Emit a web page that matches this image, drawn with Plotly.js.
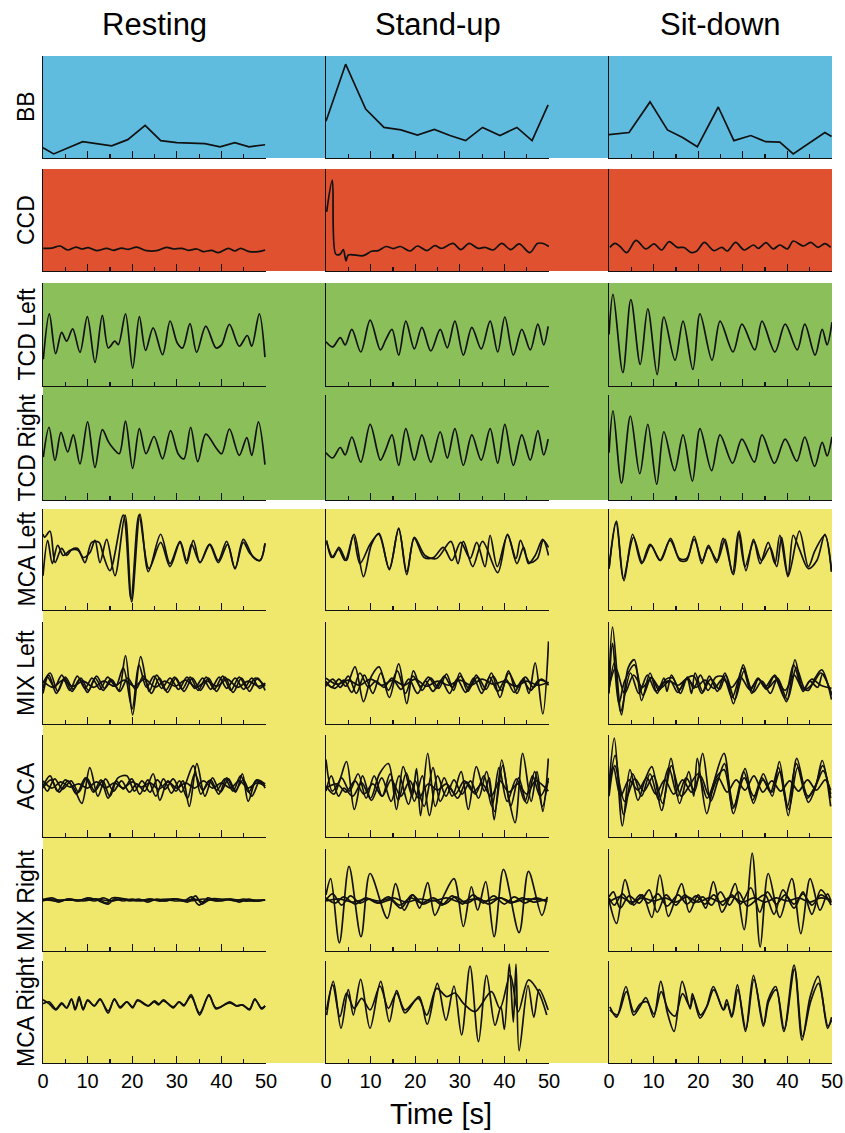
<!DOCTYPE html>
<html><head><meta charset="utf-8">
<script src="https://cdn.plot.ly/plotly-3.0.1.min.js"></script>
<style>html,body{margin:0;padding:0;background:#fff}</style>
</head><body><div id="chart" style="width:845px;height:1133px"></div>
<script>
// ---------- categories / labels ----------
const columns = ['Resting', 'Stand-up', 'Sit-down'];
const rowLabels = ['BB', 'CCD', 'TCD Left', 'TCD Right', 'MCA Left', 'MIX Left', 'ACA', 'MIX Right', 'MCA Right'];
const timeTicks = [0, 10, 20, 30, 40, 50];
const xTitle = 'Time [s]';

// ---------- data: [time (s), normalised signal] ----------
// BB
const rest_BB = [[0,0.10],[2.4,0.04],[8.9,0.16],[15.4,0.12],[19,0.18],[22.9,0.32],[26.4,0.17],[30,0.15],[36.3,0.14],[39.7,0.11],[43,0.15],[46.2,0.11],[49.8,0.13]];
const stand_BB = [[0,0.36],[4.4,0.92],[8.9,0.48],[13,0.30],[16.8,0.275],[20.5,0.225],[24.3,0.28],[27.8,0.22],[31.3,0.17],[35.1,0.30],[39,0.22],[42.8,0.30],[46.2,0.17],[49.8,0.52]];
const sit_BB = [[0,0.23],[4.5,0.25],[9.2,0.55],[13.1,0.275],[16.5,0.20],[19.8,0.11],[24.5,0.50],[28,0.17],[31.8,0.22],[35.1,0.16],[38.3,0.155],[41.3,0.04],[48.4,0.25],[49.9,0.21]];
// CCD
const rest_CCD = [[0.07,0.222],[1.94,0.225],[3.81,0.245],[5.53,0.206],[7.4,0.235],[8.67,0.216],[10.16,0.229],[12.03,0.199],[14.28,0.222],[15.77,0.203],[17.64,0.225],[19.13,0.212],[21.0,0.235],[23.2,0.199],[25.5,0.199],[27.7,0.232],[29.2,0.216],[31.1,0.222],[32.6,0.203],[34.5,0.216],[35.9,0.19],[37.8,0.203],[39.3,0.18],[41.6,0.222],[43.0,0.196],[44.3,0.222],[46.0,0.193],[48.3,0.19],[49.8,0.206]];
const stand_CCD = [[0.15,0.58],[1.42,0.89],[2.17,0.167],[3.14,0.163],[3.88,0.21],[4.48,0.10],[5.0,0.157],[8.37,0.15],[10.2,0.193],[11.7,0.20],[13.45,0.24],[15.1,0.22],[16.7,0.24],[18.8,0.196],[20.5,0.245],[22.6,0.20],[24.4,0.248],[25.9,0.222],[28.5,0.27],[30.2,0.21],[32.1,0.27],[34.1,0.222],[35.65,0.232],[37.5,0.206],[39.4,0.27],[41.4,0.21],[43.3,0.265],[45.7,0.18],[47.4,0.27],[48.7,0.27],[50,0.24]];
const sit_CCD = [[0.22,0.232],[1.35,0.27],[2.47,0.24],[3.96,0.18],[6.05,0.30],[8.3,0.216],[10.1,0.265],[11.8,0.206],[13.45,0.287],[15.3,0.232],[16.8,0.23],[18.5,0.18],[19.7,0.196],[21.4,0.28],[23.5,0.20],[25.3,0.232],[26.5,0.196],[28.4,0.28],[30.3,0.206],[32.4,0.255],[33.5,0.222],[35.2,0.278],[36.8,0.216],[38.3,0.255],[40.0,0.216],[41.3,0.294],[43.6,0.245],[45.2,0.28],[46.9,0.232],[48.4,0.268],[49.7,0.232]];
// TCD Left
const rest_TCDL = [[0.07,0.26],[1.42,0.70],[2.84,0.314],[4.18,0.52],[5.3,0.435],[6.65,0.555],[8.29,0.327],[9.94,0.673],[11.66,0.229],[13.3,0.686],[14.65,0.369],[16.1,0.435],[16.9,0.402],[18.5,0.70],[20.1,0.173],[21.6,0.673],[23.0,0.346],[24.7,0.565],[26.8,0.304],[28.5,0.631],[30.1,0.418],[31.3,0.369],[32.96,0.605],[34.45,0.327],[36.5,0.582],[38.8,0.369],[40.06,0.402],[41.8,0.598],[44.0,0.386],[45.8,0.49],[46.8,0.386],[48.5,0.70],[49.77,0.28]];
const stand_TCDL = [[0,0.43],[1.5,0.38],[3.2,0.47],[4.3,0.40],[5.8,0.55],[7.8,0.33],[9.9,0.64],[12.2,0.35],[13.4,0.45],[14.8,0.55],[16.3,0.30],[17.9,0.63],[19.8,0.36],[21.5,0.57],[23.5,0.34],[25.6,0.55],[27.2,0.37],[28.9,0.63],[30.8,0.30],[32.7,0.57],[34.8,0.36],[36.8,0.63],[38.5,0.33],[40.1,0.67],[42.0,0.30],[43.9,0.55],[45.8,0.35],[47.5,0.60],[48.8,0.40],[49.8,0.58]];
const sit_TCDL = [[0,0.50],[0.9,0.89],[3.1,0.13],[4.9,0.84],[7.0,0.21],[8.7,0.75],[10.8,0.11],[12.3,0.67],[14.8,0.25],[16.6,0.63],[18.8,0.16],[20.4,0.70],[23.1,0.25],[24.9,0.63],[27.8,0.33],[29.8,0.60],[32.7,0.35],[34.3,0.63],[37.2,0.33],[39.5,0.60],[42.2,0.35],[43.9,0.60],[46.2,0.30],[47.8,0.55],[48.9,0.40],[50,0.62]];
// TCD Right
const rest_TCDR = [[0.07,0.409],[1.35,0.693],[2.69,0.376],[4.04,0.644],[5.53,0.458],[6.8,0.621],[8.29,0.343],[10.0,0.745],[11.66,0.310],[13.3,0.670],[14.65,0.556],[15.77,0.49],[17.1,0.441],[18.5,0.752],[20.1,0.301],[21.6,0.680],[23.1,0.441],[24.9,0.605],[26.8,0.392],[28.6,0.660],[30.3,0.441],[31.6,0.392],[33.1,0.693],[34.7,0.366],[36.5,0.627],[38.9,0.49],[40.06,0.441],[41.8,0.676],[44.0,0.425],[45.7,0.595],[46.8,0.425],[48.3,0.745],[49.77,0.337]];
const stand_TCDR = [[0,0.45],[1.5,0.40],[3.2,0.50],[4.3,0.43],[5.8,0.60],[7.8,0.36],[9.9,0.72],[12.2,0.38],[13.4,0.48],[14.8,0.62],[16.3,0.33],[17.9,0.68],[19.8,0.38],[21.5,0.62],[23.5,0.36],[25.6,0.65],[27.2,0.40],[28.9,0.68],[30.8,0.33],[32.7,0.62],[34.8,0.38],[36.8,0.68],[38.5,0.35],[40.1,0.72],[42.0,0.33],[43.9,0.62],[45.8,0.38],[47.5,0.66],[48.8,0.43],[49.8,0.58]];
const sit_TCDR = [[0,0.45],[0.9,0.85],[2.8,0.16],[4.8,0.80],[6.9,0.25],[8.7,0.72],[10.7,0.15],[12.3,0.65],[14.7,0.28],[16.6,0.62],[18.7,0.18],[20.4,0.68],[23.0,0.28],[24.9,0.62],[27.7,0.35],[29.8,0.58],[32.6,0.36],[34.3,0.62],[37.1,0.35],[39.5,0.58],[42.1,0.37],[43.9,0.60],[46.1,0.32],[47.8,0.55],[48.9,0.42],[50,0.60]];
// MCA Left
const rest_MCAL_1 = [[0,0.75],[0.37,0.72],[1.57,0.78],[2.69,0.47],[4.19,0.61],[5.31,0.54],[6.43,0.60],[7.7,0.61],[9.04,0.52],[10.54,0.57],[11.66,0.69],[12.78,0.47],[14.28,0.70],[16.14,0.34],[18.39,0.94],[19.88,0.08],[21.75,0.95],[23.62,0.38],[26.38,0.75],[28.48,0.46],[30.72,0.68],[32.21,0.49],[33.33,0.65],[35.2,0.47],[37.44,0.65],[39.31,0.49],[41.18,0.68],[43.05,0.41],[44.92,0.70],[47.16,0.52],[48.65,0.49],[49.78,0.66]];
const rest_MCAL_2 = [[0,0.34],[1.05,0.69],[2.09,0.46],[3.29,0.64],[4.56,0.54],[6.05,0.59],[7.92,0.59],[9.42,0.47],[10.91,0.67],[12.56,0.67],[13.53,0.54],[15.02,0.39],[18.01,0.94],[19.73,0.11],[21.52,0.94],[23.77,0.41],[26.38,0.67],[28.48,0.43],[30.72,0.67],[32.21,0.46],[33.7,0.69],[35.2,0.47],[37.3,0.65],[39.31,0.47],[41.4,0.65],[43.05,0.41],[44.92,0.67],[46.4,0.56],[48.65,0.49],[49.78,0.66]];
const stand_MCAL_1 = [[0.15,0.69],[1.3,0.52],[2.8,0.60],[4.3,0.49],[6.3,0.75],[8.4,0.33],[10.2,0.65],[11.9,0.76],[14.2,0.40],[16.3,0.81],[18.1,0.35],[19.8,0.72],[22.2,0.54],[24.8,0.51],[28.0,0.68],[29.6,0.46],[30.8,0.68],[32.9,0.43],[35.1,0.68],[38.5,0.37],[40.7,0.75],[42.8,0.46],[44.3,0.62],[45.4,0.46],[46.9,0.54],[48.6,0.70],[49.9,0.54]];
const stand_MCAL_2 = [[0.15,0.67],[1.6,0.52],[2.9,0.62],[4.6,0.49],[6.1,0.74],[7.6,0.46],[9.9,0.65],[11.8,0.75],[14.2,0.41],[16.3,0.80],[18.1,0.38],[19.8,0.71],[22.0,0.52],[24.1,0.52],[26.3,0.62],[28.2,0.49],[30.2,0.67],[32.3,0.51],[33.8,0.67],[35.65,0.43],[36.8,0.74],[38.4,0.43],[40.7,0.74],[42.6,0.51],[43.6,0.69],[45.6,0.47],[47.4,0.51],[48.7,0.69],[49.9,0.62]];
const sit_MCAL_1 = [[0,0.41],[1.57,0.87],[3.36,0.29],[5.3,0.75],[7.3,0.46],[9.2,0.65],[11.6,0.49],[13.8,0.71],[15.9,0.49],[17.4,0.49],[19.1,0.73],[20.8,0.46],[22.3,0.64],[24.1,0.47],[25.6,0.71],[27.9,0.35],[29.2,0.78],[30.7,0.39],[32.4,0.70],[33.9,0.46],[35.7,0.67],[37.2,0.46],[38.3,0.74],[40.1,0.33],[41.3,0.74],[42.7,0.60],[44.7,0.41],[46.6,0.49],[48.4,0.75],[49.9,0.38]];
const sit_MCAL_2 = [[0,0.41],[1.7,0.88],[3.2,0.31],[5.5,0.72],[7.5,0.47],[9.4,0.64],[11.4,0.49],[13.7,0.69],[15.8,0.51],[17.4,0.51],[19.1,0.70],[20.9,0.49],[22.3,0.62],[24.3,0.49],[26.0,0.70],[27.7,0.36],[29.0,0.77],[30.5,0.43],[32.5,0.68],[34.2,0.49],[36.1,0.62],[37.6,0.43],[38.7,0.72],[40.2,0.34],[42.7,0.78],[44.7,0.43],[46.2,0.59],[48.4,0.74],[49.9,0.38]];
// MIX Left
const rest_MIXL_1 = [[0,0.40],[1.6,0.50],[3.3,0.32],[5.0,0.46],[6.8,0.34],[8.5,0.45],[10.2,0.33],[12,0.47],[13.8,0.35],[15.5,0.43],[17.0,0.33],[18.5,0.67],[20.1,0.09],[21.9,0.66],[23.8,0.32],[25.5,0.48],[27.5,0.33],[29.5,0.46],[31.2,0.34],[33.0,0.46],[34.8,0.33],[36.6,0.46],[38.4,0.34],[40.3,0.47],[42.1,0.33],[44.0,0.46],[45.8,0.35],[47.6,0.45],[49.8,0.37]];
const rest_MIXL_2 = [[0,0.35],[1.0,0.46],[2.6,0.36],[4.2,0.48],[6.0,0.33],[7.7,0.47],[9.4,0.35],[11.0,0.45],[12.8,0.34],[14.5,0.46],[16.3,0.37],[18.0,0.55],[20.0,0.15],[21.5,0.58],[23.2,0.36],[24.9,0.47],[26.6,0.35],[28.5,0.45],[30.4,0.34],[32.3,0.46],[34.0,0.35],[35.8,0.45],[37.6,0.34],[39.5,0.46],[41.2,0.35],[43.1,0.45],[45.0,0.34],[46.8,0.45],[48.6,0.35],[49.8,0.40]];
const rest_MIXL_3 = [[0,0.42],[2.2,0.36],[4.5,0.43],[6.6,0.37],[9.0,0.42],[11.4,0.36],[13.6,0.42],[16.0,0.37],[18.2,0.43],[20.5,0.37],[22.8,0.44],[25.2,0.36],[27.3,0.42],[29.6,0.37],[32.0,0.43],[34.3,0.36],[36.7,0.42],[39.0,0.37],[41.3,0.44],[43.6,0.36],[46.0,0.42],[48.3,0.37],[49.8,0.40]];
const rest_MIXL_4 = [[0,0.30],[1.3,0.48],[3.0,0.30],[4.8,0.45],[6.5,0.32],[8.2,0.44],[10.0,0.31],[11.7,0.45],[13.5,0.33],[15.2,0.44],[17.2,0.32],[19.0,0.45],[20.8,0.34],[22.5,0.47],[24.3,0.30],[26.1,0.45],[27.9,0.31],[29.8,0.45],[31.6,0.32],[33.5,0.45],[35.3,0.33],[37.1,0.45],[38.9,0.32],[40.8,0.46],[42.6,0.31],[44.5,0.45],[46.3,0.32],[48.1,0.45],[49.8,0.33]];
const stand_MIXL_1 = [[0,0.42],[1.3,0.36],[2.9,0.44],[4.5,0.37],[6.5,0.56],[8.4,0.22],[10.2,0.47],[11.9,0.56],[14.2,0.26],[16.3,0.59],[18.1,0.20],[19.6,0.52],[21.5,0.33],[23.5,0.45],[25.3,0.35],[27.0,0.49],[28.6,0.33],[30.0,0.50],[31.8,0.32],[33.7,0.48],[35.3,0.33],[37.1,0.50],[39.0,0.26],[40.9,0.52],[42.8,0.30],[44.3,0.45],[45.5,0.30],[46.9,0.60],[48.6,0.10],[49.9,0.81]];
const stand_MIXL_2 = [[0,0.37],[1.5,0.44],[3.2,0.36],[5.0,0.47],[6.8,0.30],[8.6,0.48],[10.5,0.30],[12.3,0.50],[14.0,0.33],[16.0,0.52],[17.8,0.30],[19.5,0.47],[21.2,0.37],[23.0,0.46],[24.8,0.35],[26.5,0.47],[28.3,0.36],[30.2,0.47],[32.0,0.35],[34.0,0.46],[35.9,0.34],[37.5,0.47],[39.3,0.33],[41.0,0.50],[42.9,0.36],[44.7,0.46],[46.5,0.36],[48.3,0.44],[49.9,0.38]];
const stand_MIXL_3 = [[0,0.40],[2.0,0.35],[4.0,0.43],[5.8,0.31],[7.6,0.50],[9.5,0.36],[11.2,0.42],[13.0,0.36],[14.8,0.45],[16.8,0.34],[18.6,0.44],[20.5,0.30],[22.3,0.42],[24.0,0.32],[25.8,0.43],[27.7,0.30],[29.4,0.44],[31.3,0.31],[33.1,0.45],[34.9,0.30],[36.7,0.46],[38.5,0.32],[40.3,0.44],[42.2,0.31],[44.0,0.43],[45.9,0.33],[47.7,0.43],[49.9,0.40]];
const stand_MIXL_4 = [[0,0.45],[2.5,0.39],[5.0,0.43],[7.5,0.38],[10.0,0.44],[12.5,0.38],[15.0,0.43],[17.5,0.38],[20.0,0.44],[22.5,0.37],[25.0,0.42],[27.5,0.38],[30.0,0.43],[32.5,0.38],[35.0,0.44],[37.5,0.39],[40.0,0.42],[42.5,0.37],[45.0,0.42],[47.5,0.38],[49.9,0.41]];
const sit_MIXL_1 = [[0,0.40],[0.8,0.95],[2.8,0.09],[4.3,0.55],[5.7,0.63],[7.3,0.23],[9.2,0.50],[10.8,0.30],[12.3,0.45],[13.0,0.32],[14.0,0.48],[15.8,0.34],[17.5,0.45],[18.5,0.30],[19.3,0.50],[21.0,0.32],[22.5,0.47],[24.3,0.32],[26.0,0.50],[27.9,0.20],[30.1,0.58],[32.0,0.30],[33.5,0.44],[35.3,0.34],[37.2,0.48],[39.8,0.22],[41.7,0.63],[43.3,0.36],[44.7,0.33],[46.2,0.45],[47.7,0.53],[49.9,0.24]];
const sit_MIXL_2 = [[0,0.30],[0.8,0.79],[2.2,0.20],[3.5,0.42],[5.7,0.58],[7.6,0.28],[9.5,0.46],[11.2,0.33],[12.8,0.44],[14.3,0.45],[16.0,0.30],[17.6,0.46],[19.0,0.35],[20.5,0.48],[22.2,0.33],[24.0,0.46],[25.7,0.46],[27.6,0.26],[30.0,0.55],[31.7,0.33],[33.4,0.45],[35.0,0.36],[37.0,0.47],[39.4,0.26],[41.4,0.58],[43.5,0.32],[45.0,0.42],[46.8,0.36],[47.9,0.49],[49.9,0.28]];
const sit_MIXL_3 = [[0,0.36],[1.5,0.55],[3.5,0.30],[5.5,0.48],[7.5,0.36],[9.5,0.45],[11.5,0.35],[13.5,0.42],[15.5,0.38],[17.5,0.44],[19.5,0.36],[21.5,0.43],[23.5,0.35],[25.5,0.44],[27.5,0.36],[29.5,0.46],[31.5,0.34],[33.5,0.44],[35.5,0.35],[37.5,0.43],[39.5,0.33],[41.5,0.48],[43.5,0.34],[45.5,0.44],[47.5,0.38],[49.9,0.35]];
const sit_MIXL_4 = [[0,0.34],[1.2,0.60],[2.6,0.12],[4.8,0.50],[6.7,0.30],[8.6,0.48],[10.5,0.32],[12.0,0.40],[13.8,0.42],[15.4,0.31],[17.2,0.44],[19.0,0.47],[20.8,0.30],[22.8,0.44],[24.8,0.34],[26.2,0.48],[28.2,0.24],[30.3,0.52],[32.3,0.31],[34.3,0.42],[36.2,0.30],[37.8,0.45],[40.0,0.24],[42.0,0.55],[44.0,0.34],[45.8,0.40],[47.5,0.50],[49.9,0.30]];
// ACA
const rest_ACA_1 = [[0,0.50],[1.6,0.60],[3.2,0.45],[5.0,0.56],[6.9,0.48],[8.7,0.33],[10.5,0.68],[12.3,0.40],[14.0,0.57],[15.8,0.45],[17.6,0.55],[19.4,0.44],[21.0,0.52],[22.8,0.45],[24.7,0.62],[26.2,0.36],[28.0,0.55],[29.8,0.45],[31.4,0.55],[32.8,0.30],[34.5,0.72],[36.3,0.40],[38.0,0.58],[39.8,0.44],[41.6,0.57],[43.2,0.44],[44.7,0.62],[46.0,0.35],[47.8,0.55],[49.8,0.50]];
const rest_ACA_2 = [[0,0.52],[1.0,0.45],[2.6,0.57],[4.4,0.47],[6.3,0.55],[8.0,0.44],[9.8,0.58],[11.6,0.45],[13.4,0.55],[15.0,0.40],[16.8,0.58],[18.8,0.60],[20.5,0.45],[22.2,0.55],[24.0,0.44],[25.6,0.56],[27.4,0.47],[29.2,0.57],[31.0,0.44],[33.7,0.70],[35.4,0.42],[37.2,0.55],[39.0,0.46],[40.8,0.57],[42.6,0.45],[44.3,0.60],[46.1,0.44],[47.9,0.56],[49.8,0.52]];
const rest_ACA_3 = [[0,0.55],[2,0.48],[4,0.54],[6,0.49],[8,0.52],[10,0.48],[12,0.54],[14,0.48],[16,0.53],[18,0.48],[20,0.54],[22,0.49],[24,0.53],[26,0.47],[28,0.54],[30,0.48],[32,0.53],[34,0.48],[36,0.55],[38,0.48],[40,0.53],[42,0.48],[44,0.55],[46,0.48],[48,0.53],[49.8,0.50]];
const rest_ACA_4 = [[0,0.48],[1.8,0.56],[3.6,0.44],[5.6,0.55],[7.5,0.42],[9.5,0.58],[11.3,0.44],[13.0,0.56],[14.6,0.38],[16.4,0.55],[18.0,0.47],[19.9,0.57],[21.7,0.42],[23.5,0.56],[25.3,0.40],[27.0,0.57],[28.8,0.43],[30.6,0.55],[32.4,0.38],[34.0,0.62],[35.8,0.46],[37.6,0.56],[39.4,0.42],[41.2,0.58],[43.0,0.45],[44.9,0.56],[46.8,0.40],[48.6,0.55],[49.8,0.48]];
const stand_ACA_1 = [[0,0.76],[1.4,0.45],[3.0,0.55],[4.6,0.74],[6.35,0.27],[8.2,0.60],[10.0,0.38],[12.0,0.62],[14.0,0.72],[15.8,0.27],[17.3,0.69],[19.3,0.40],[20.3,0.67],[21.2,0.21],[22.8,0.82],[24.5,0.30],[26.5,0.58],[28.3,0.40],[30.3,0.64],[31.9,0.27],[33.7,0.69],[35.5,0.45],[36.6,0.58],[37.7,0.17],[39.4,0.755],[40.9,0.40],[42.4,0.14],[44.1,0.82],[46.0,0.35],[47.3,0.64],[48.6,0.25],[49.85,0.77]];
const stand_ACA_2 = [[0,0.50],[1.8,0.42],[3.5,0.58],[5.3,0.45],[7.2,0.62],[9.0,0.38],[10.8,0.60],[12.6,0.40],[14.4,0.62],[16.2,0.36],[18.0,0.63],[19.8,0.35],[21.6,0.60],[23.2,0.21],[25.0,0.60],[26.9,0.40],[28.7,0.56],[30.5,0.42],[32.4,0.55],[34.2,0.38],[36.0,0.64],[37.8,0.25],[39.6,0.70],[41.4,0.30],[43.2,0.58],[45.0,0.33],[46.8,0.64],[48.5,0.30],[49.85,0.58]];
const stand_ACA_3 = [[0,0.48],[2.5,0.52],[4.5,0.44],[6.5,0.55],[8.5,0.42],[10.5,0.52],[12.6,0.40],[14.6,0.56],[16.8,0.40],[18.8,0.55],[20.8,0.38],[22.9,0.52],[25.0,0.46],[27.0,0.52],[29.0,0.42],[31.0,0.55],[33.0,0.44],[35.0,0.52],[37.0,0.40],[39.0,0.55],[41.0,0.44],[43.0,0.52],[45.0,0.42],[47.0,0.55],[49.85,0.45]];
const stand_ACA_4 = [[0,0.45],[1.2,0.60],[2.8,0.40],[4.0,0.48],[6.0,0.40],[8.0,0.53],[10.2,0.36],[12.5,0.58],[14.6,0.35],[16.4,0.60],[18.5,0.32],[20.0,0.55],[22.0,0.30],[24.0,0.68],[25.6,0.35],[27.5,0.50],[29.5,0.38],[31.5,0.54],[33.5,0.42],[35.4,0.60],[37.2,0.30],[38.8,0.68],[40.6,0.35],[42.7,0.57],[44.6,0.35],[46.3,0.60],[48.0,0.40],[49.85,0.55]];
const sit_ACA_1 = [[0,0.50],[1.2,0.97],[3.0,0.11],[4.7,0.66],[6.5,0.36],[8.0,0.55],[9.6,0.69],[11.8,0.26],[13.9,0.77],[15.8,0.33],[17.9,0.64],[19.0,0.40],[19.8,0.77],[21.9,0.23],[23.6,0.55],[25.8,0.82],[27.9,0.23],[30.5,0.67],[32.4,0.33],[34.6,0.62],[36.6,0.40],[38.2,0.74],[40.2,0.21],[42.1,0.77],[44.7,0.34],[46.4,0.50],[47.8,0.75],[49.7,0.30]];
const sit_ACA_2 = [[0,0.45],[1.4,0.80],[3.3,0.22],[5.3,0.62],[7.3,0.40],[9.2,0.62],[11.2,0.36],[13.4,0.68],[15.4,0.40],[17.3,0.58],[19.2,0.45],[21.0,0.82],[22.8,0.35],[24.4,0.55],[25.9,0.72],[28.0,0.30],[30.2,0.64],[32.2,0.36],[34.3,0.58],[36.2,0.44],[38.0,0.68],[40.0,0.30],[42.0,0.72],[44.4,0.38],[46.1,0.48],[47.9,0.70],[49.7,0.38]];
const sit_ACA_3 = [[0,0.55],[1.0,0.68],[2.6,0.40],[4.5,0.56],[6.5,0.46],[8.5,0.58],[10.5,0.42],[12.5,0.56],[14.5,0.42],[16.5,0.56],[18.5,0.44],[20.5,0.60],[22.5,0.40],[24.5,0.58],[26.5,0.44],[28.5,0.56],[30.5,0.46],[32.5,0.60],[34.5,0.44],[36.5,0.55],[38.5,0.45],[40.5,0.55],[42.5,0.45],[44.5,0.56],[46.5,0.46],[48.5,0.56],[49.7,0.46]];
const sit_ACA_4 = [[0,0.40],[1.3,0.70],[3.5,0.35],[5.8,0.57],[7.8,0.45],[10.0,0.60],[12.0,0.33],[14.0,0.70],[16.2,0.40],[18.0,0.50],[20.0,0.62],[22.0,0.38],[24.0,0.58],[25.8,0.66],[27.8,0.28],[30.3,0.58],[32.5,0.40],[34.5,0.56],[36.5,0.44],[38.3,0.64],[40.3,0.27],[42.3,0.68],[44.6,0.40],[46.5,0.52],[48.0,0.65],[49.7,0.42]];
// MIX Right
const rest_MIXR_1 = [[0,0.50],[2,0.52],[4,0.49],[6,0.51],[8,0.49],[10,0.52],[12,0.50],[14.6,0.46],[16,0.51],[18,0.49],[20,0.51],[22,0.49],[24,0.51],[26,0.49],[28,0.50],[30,0.49],[32,0.50],[33.3,0.53],[35.0,0.45],[37,0.52],[39,0.49],[41,0.51],[43,0.49],[45,0.51],[47,0.49],[49.8,0.50]];
const rest_MIXR_2 = [[0,0.49],[1.5,0.51],[3.5,0.48],[5.5,0.51],[7.5,0.49],[9.5,0.51],[11.5,0.49],[13.5,0.52],[15.5,0.49],[17.5,0.51],[19.5,0.49],[21.5,0.51],[23.5,0.48],[25.5,0.51],[27.5,0.49],[29.5,0.51],[31.5,0.49],[34.0,0.51],[36.0,0.48],[38.0,0.51],[40.0,0.49],[42.0,0.51],[44.0,0.48],[46.0,0.51],[48.0,0.49],[49.8,0.50]];
const rest_MIXR_3 = [[0,0.51],[3,0.49],[6,0.51],[9,0.49],[12,0.51],[15,0.49],[18,0.51],[21,0.49],[24,0.51],[27,0.49],[30,0.51],[33,0.49],[36,0.51],[39,0.49],[42,0.51],[45,0.49],[49.8,0.50]];
const rest_MIXR_4 = [[0,0.50],[4,0.50],[8,0.50],[12,0.51],[14.3,0.47],[15.5,0.52],[20,0.50],[25,0.50],[30,0.51],[32.5,0.48],[34.2,0.54],[35.6,0.46],[37.5,0.51],[42,0.50],[46,0.50],[49.8,0.50]];
const stand_MIXR_1 = [[0,0.55],[1.05,0.71],[3.0,0.08],[5.16,0.83],[7.85,0.14],[9.87,0.76],[13.75,0.32],[15.6,0.66],[17.5,0.40],[19.5,0.55],[21.0,0.42],[22.8,0.67],[24.4,0.35],[26.5,0.55],[28.7,0.71],[30.8,0.24],[32.6,0.63],[34.0,0.40],[35.8,0.68],[37.7,0.14],[39.8,0.80],[43.3,0.18],[45.4,0.78],[48.4,0.35],[49.6,0.53]];
const stand_MIXR_2 = [[0,0.52],[2.0,0.47],[4.0,0.53],[6.5,0.46],[9.0,0.52],[11.5,0.47],[14.0,0.53],[16.5,0.45],[19.0,0.52],[21.5,0.47],[24.0,0.52],[26.5,0.46],[29.0,0.53],[31.5,0.47],[34.0,0.52],[36.5,0.46],[39.0,0.52],[41.5,0.47],[44.0,0.52],[46.5,0.48],[49.6,0.51]];
const stand_MIXR_3 = [[0,0.50],[1.5,0.56],[3.5,0.45],[5.5,0.54],[7.6,0.47],[9.8,0.51],[12,0.47],[14.5,0.50],[16.8,0.42],[19.3,0.55],[21.7,0.46],[24.2,0.50],[26.0,0.45],[28.3,0.54],[30.6,0.46],[33,0.55],[35.3,0.47],[37.6,0.54],[40.0,0.46],[42.2,0.53],[44.6,0.47],[47.0,0.52],[49.6,0.48]];
const stand_MIXR_4 = [[0,0.49],[3.0,0.51],[6.0,0.48],[9.0,0.51],[12.0,0.49],[15,0.52],[18,0.48],[21,0.51],[24,0.49],[27,0.52],[30,0.48],[33,0.51],[36,0.49],[39,0.52],[42,0.48],[45,0.51],[49.6,0.49]];
const sit_MIXR_1 = [[0,0.50],[1.7,0.27],[3.6,0.70],[5.5,0.45],[7.5,0.55],[9.6,0.33],[11.4,0.745],[13.3,0.34],[14.8,0.50],[16.3,0.66],[18.0,0.38],[20.0,0.55],[21.7,0.42],[23.4,0.68],[25.3,0.38],[26.8,0.50],[28.3,0.66],[30.3,0.21],[32.1,0.96],[33.9,0.04],[35.7,0.76],[38.3,0.33],[41.0,0.71],[43.0,0.17],[45.1,0.71],[47.3,0.40],[49.0,0.56],[49.8,0.48]];
const sit_MIXR_2 = [[0,0.52],[1.2,0.45],[3.0,0.56],[5.0,0.46],[7.0,0.55],[8.8,0.47],[11.0,0.56],[13.0,0.44],[15.5,0.55],[17.5,0.46],[19.5,0.54],[21.5,0.46],[23.5,0.55],[25.5,0.45],[27.5,0.55],[29.5,0.46],[31.8,0.62],[33.8,0.38],[35.5,0.58],[37.5,0.46],[39.5,0.55],[41.5,0.46],[43.5,0.56],[45.5,0.45],[47.5,0.55],[49.8,0.47]];
const sit_MIXR_3 = [[0,0.48],[2.5,0.53],[5.0,0.48],[7.5,0.52],[10.0,0.49],[12.5,0.52],[15.0,0.48],[17.5,0.53],[20.0,0.48],[22.5,0.52],[25.0,0.48],[27.5,0.53],[30.0,0.48],[32.5,0.52],[35.0,0.48],[37.5,0.52],[40.0,0.49],[42.5,0.52],[45.0,0.48],[47.5,0.52],[49.8,0.50]];
const sit_MIXR_4 = [[0,0.53],[1.0,0.58],[2.5,0.42],[4.5,0.54],[6.8,0.47],[9.0,0.60],[10.8,0.38],[12.8,0.55],[15.0,0.45],[17.0,0.55],[19.0,0.47],[21.0,0.53],[23.0,0.45],[25.0,0.58],[27.0,0.45],[29.0,0.58],[31.0,0.44],[33.0,0.50],[35.0,0.55],[37.0,0.36],[39.0,0.60],[41.5,0.42],[43.5,0.58],[45.5,0.36],[47.5,0.60],[49.8,0.45]];
// MCA Right
const rest_MCAR_1 = [[0,0.62],[1.4,0.58],[2.9,0.52],[4.2,0.58],[5.3,0.54],[6.4,0.63],[7.2,0.52],[8.1,0.65],[9.0,0.52],[10.0,0.62],[11.5,0.56],[12.8,0.63],[14.6,0.49],[16.0,0.63],[17.3,0.54],[18.8,0.60],[20.1,0.54],[21.2,0.62],[23.6,0.56],[24.9,0.60],[25.9,0.57],[27.0,0.62],[29.2,0.54],[30.5,0.60],[31.6,0.56],[33.2,0.67],[35.1,0.47],[37.2,0.67],[38.8,0.53],[41.9,0.60],[43.4,0.56],[44.7,0.57],[46.3,0.52],[47.5,0.63],[49.0,0.53],[49.8,0.56]];
const rest_MCAR_2 = [[0,0.58],[1.4,0.60],[2.9,0.53],[4.2,0.59],[5.3,0.54],[6.4,0.62],[7.3,0.53],[8.1,0.63],[9.0,0.53],[10.0,0.61],[11.5,0.56],[12.8,0.62],[14.6,0.51],[16.0,0.62],[17.3,0.55],[18.8,0.60],[20.1,0.55],[21.2,0.61],[23.6,0.56],[25.0,0.61],[26.0,0.58],[27.0,0.61],[29.2,0.55],[30.5,0.60],[31.6,0.57],[33.2,0.65],[35.1,0.49],[37.2,0.66],[38.8,0.54],[41.9,0.59],[43.4,0.56],[44.7,0.57],[46.3,0.53],[47.5,0.62],[49.0,0.54],[49.8,0.56]];
const stand_MCAR_1 = [[0.15,0.47],[1.64,0.80],[3.36,0.34],[5.0,0.72],[6.13,0.47],[7.77,0.82],[9.87,0.34],[12.26,0.80],[14.2,0.405],[15.84,0.71],[17.7,0.49],[20.85,0.65],[22.7,0.38],[24.96,0.78],[26.9,0.42],[28.7,0.755],[30.4,0.275],[32.3,0.95],[34.2,0.21],[36.0,0.86],[37.9,0.37],[39.2,0.55],[40.0,0.33],[41.1,0.97],[42.0,0.40],[42.6,0.97],[43.3,0.12],[45.3,0.76],[46.6,0.45],[47.8,0.72],[49.8,0.52]];
const stand_MCAR_2 = [[0.15,0.52],[1.5,0.765],[3.1,0.454],[4.6,0.686],[6.3,0.536],[8.0,0.634],[9.9,0.52],[12.1,0.755],[14.0,0.536],[15.8,0.686],[17.7,0.52],[20.7,0.634],[22.6,0.47],[24.8,0.732],[27.1,0.65],[28.9,0.686],[30.8,0.585],[33.4,0.503],[37.1,0.699],[39.0,0.536],[41.3,0.863],[43.1,0.503],[45.4,0.814],[47.6,0.699],[49.5,0.47]];
const sit_MCAR_1 = [[0.2,0.55],[1.7,0.45],[3.8,0.75],[5.5,0.47],[6.9,0.55],[8.3,0.64],[10.0,0.45],[11.6,0.80],[13.1,0.49],[14.6,0.31],[16.4,0.80],[18.2,0.53],[18.7,0.68],[20.4,0.44],[21.9,0.55],[23.4,0.75],[25.6,0.52],[26.4,0.62],[27.5,0.45],[28.8,0.765],[30.6,0.31],[32.4,0.86],[34.6,0.36],[35.7,0.62],[37.4,0.75],[39.2,0.31],[41.5,0.96],[43.3,0.225],[45.1,0.65],[46.9,0.85],[49.0,0.34],[49.9,0.45]];
const sit_MCAR_2 = [[0.2,0.52],[1.9,0.47],[3.9,0.70],[5.6,0.50],[7.0,0.58],[8.5,0.60],[10.1,0.48],[11.7,0.70],[13.3,0.52],[14.8,0.46],[16.5,0.68],[18.2,0.55],[18.9,0.64],[20.5,0.47],[22.0,0.56],[23.5,0.72],[25.7,0.52],[26.5,0.58],[27.6,0.46],[28.9,0.72],[30.7,0.33],[32.5,0.82],[34.7,0.38],[35.8,0.60],[37.5,0.72],[39.3,0.33],[41.6,0.92],[43.4,0.26],[45.2,0.60],[47.0,0.78],[49.1,0.36],[49.9,0.42]];

// panel -> list of series, rows x columns
const panelSeries = [
  [[rest_BB], [stand_BB], [sit_BB]],
  [[rest_CCD], [stand_CCD], [sit_CCD]],
  [[rest_TCDL], [stand_TCDL], [sit_TCDL]],
  [[rest_TCDR], [stand_TCDR], [sit_TCDR]],
  [[rest_MCAL_1, rest_MCAL_2], [stand_MCAL_1, stand_MCAL_2], [sit_MCAL_1, sit_MCAL_2]],
  [[rest_MIXL_1, rest_MIXL_2, rest_MIXL_3, rest_MIXL_4], [stand_MIXL_1, stand_MIXL_2, stand_MIXL_3, stand_MIXL_4], [sit_MIXL_1, sit_MIXL_2, sit_MIXL_3, sit_MIXL_4]],
  [[rest_ACA_1, rest_ACA_2, rest_ACA_3, rest_ACA_4], [stand_ACA_1, stand_ACA_2, stand_ACA_3, stand_ACA_4], [sit_ACA_1, sit_ACA_2, sit_ACA_3, sit_ACA_4]],
  [[rest_MIXR_1, rest_MIXR_2, rest_MIXR_3, rest_MIXR_4], [stand_MIXR_1, stand_MIXR_2, stand_MIXR_3, stand_MIXR_4], [sit_MIXR_1, sit_MIXR_2, sit_MIXR_3, sit_MIXR_4]],
  [[rest_MCAR_1, rest_MCAR_2], [stand_MCAR_1, stand_MCAR_2], [sit_MCAR_1, sit_MCAR_2]]
];

// ---------- layout geometry (pixels) ----------
const W = 845, H = 1133;
const colLeft = [43, 326, 609], colWidth = 223;
const rowTop = [56, 169, 283, 395, 509, 622, 735, 849, 961];
const rowBottom = [158, 271, 386, 500, 610, 724, 837, 951, 1063];
const bands = [
  {top: 56, bottom: 158, color: '#5fbcdf'},
  {top: 169, bottom: 271, color: '#df512f'},
  {top: 283, bottom: 500, color: '#8bbf59'},
  {top: 509, bottom: 1063, color: '#f0e76d'}
];
const bandLeft = 43, bandRight = 832;
const FONT = 'Liberation Sans, Arial, Helvetica, sans-serif';

const traces = [];
const layout = {
  width: W, height: H,
  margin: {l: 0, r: 0, t: 0, b: 0},
  paper_bgcolor: '#ffffff',
  plot_bgcolor: 'rgba(0,0,0,0)',
  showlegend: false,
  font: {family: FONT, color: '#000'},
  shapes: [],
  annotations: []
};

bands.forEach(b => {
  layout.shapes.push({
    type: 'rect', xref: 'paper', yref: 'paper', layer: 'below',
    x0: bandLeft / W, x1: bandRight / W, y0: 1 - b.bottom / H, y1: 1 - b.top / H,
    fillcolor: b.color, line: {width: 0}
  });
});

for (let r = 0; r < rowLabels.length; r++) {
  for (let c = 0; c < columns.length; c++) {
    const i = r * 3 + c + 1;
    const xa = 'xaxis' + (i === 1 ? '' : i), ya = 'yaxis' + (i === 1 ? '' : i);
    const xr = 'x' + (i === 1 ? '' : i), yr = 'y' + (i === 1 ? '' : i);
    layout[xa] = {
      domain: [colLeft[c] / W, (colLeft[c] + colWidth) / W],
      range: [0, 50], anchor: yr, fixedrange: true,
      showline: true, linecolor: '#111', linewidth: 1.2,
      showgrid: false, zeroline: false,
      tickmode: 'array', tickvals: timeTicks, ticktext: timeTicks.map(String),
      ticks: 'inside', ticklen: 7, tickwidth: 1.2, tickcolor: '#111',
      minor: {tickmode: 'linear', tick0: 0, dtick: 5, ticks: 'inside', ticklen: 4, tickwidth: 1.2, tickcolor: '#111', showgrid: false},
      showticklabels: r === rowLabels.length - 1,
      tickfont: {size: 20, family: FONT, color: '#000'}
    };
    layout[ya] = {
      domain: [1 - rowBottom[r] / H, 1 - rowTop[r] / H],
      range: [0, 1], anchor: xr, fixedrange: true,
      showline: true, linecolor: '#111', linewidth: 1.2,
      showgrid: false, zeroline: false, ticks: '', showticklabels: false
    };
    panelSeries[r][c].forEach(s => {
      traces.push({
        type: 'scatter', mode: 'lines', xaxis: xr, yaxis: yr,
        x: s.map(p => p[0]), y: s.map(p => p[1]),
        line: {color: '#111', width: 1.7, shape: r === 0 ? 'linear' : 'spline', smoothing: 0.9},
        hoverinfo: 'skip', showlegend: false
      });
    });
  }
}

columns.forEach((t, c) => {
  layout.annotations.push({
    text: t, xref: 'paper', yref: 'paper',
    x: (colLeft[c] + colWidth / 2) / W, y: 1 - 25 / H,
    xanchor: 'center', yanchor: 'middle', showarrow: false,
    font: {size: 31, family: FONT, color: '#000'}
  });
});
rowLabels.forEach((t, r) => {
  layout.annotations.push({
    text: t, xref: 'paper', yref: 'paper',
    x: 26 / W, y: 1 - ((rowTop[r] + rowBottom[r]) / 2) / H,
    xanchor: 'center', yanchor: 'middle', textangle: -90, showarrow: false,
    font: {size: 23, family: FONT, color: '#000'}
  });
});
layout.annotations.push({
  text: xTitle, xref: 'paper', yref: 'paper',
  x: 441 / W, y: 1 - 1114 / H, xanchor: 'center', yanchor: 'middle', showarrow: false,
  font: {size: 29, family: FONT, color: '#000'}
});

Plotly.newPlot('chart', traces, layout, {displayModeBar: false, staticPlot: true});
</script>
</body></html>
